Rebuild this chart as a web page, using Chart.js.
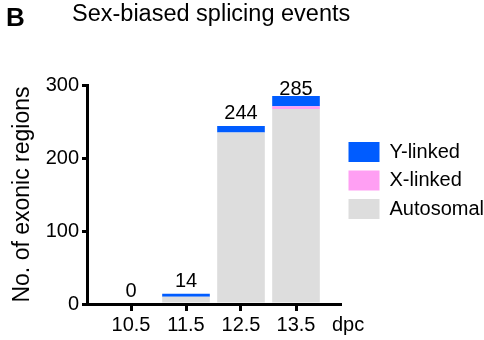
<!DOCTYPE html>
<html>
<head>
<meta charset="utf-8">
<script src="https://cdn.jsdelivr.net/npm/chart.js@4.4.1/dist/chart.umd.min.js"></script>
<style>
  html, body { margin: 0; padding: 0; background: #fff; }
  #wrap { position: relative; width: 484px; height: 340px; font-family: "Liberation Sans", Arial, Helvetica, sans-serif; color: #000; }
  #panel { position: absolute; left: 6px; top: 4px; font-size: 26px; font-weight: bold; line-height: 1; }
  #heading { position: absolute; left: 72px; top: 2px; font-size: 23.5px; line-height: 1; }
  canvas { position: absolute; left: 0; top: 0; }
</style>
</head>
<body>
<div id="wrap">
  <canvas id="chart" width="484" height="340"></canvas>
  <div id="panel">B</div>
  <div id="heading">Sex-biased splicing events</div>
</div>
<script>
// Embryonic stages (dpc) and exonic-region counts per chromosome class
const categories = [10.5, 11.5, 12.5, 13.5];
const tickLabels = ['10.5', '11.5', '12.5', '13.5'];
const autosomal = [0, 10, 235, 267];
const xLinked = [0, 0, 0, 4];
const yLinked = [0, 4, 9, 14];
const yTicks = [0, 100, 200, 300];

const FONT = '"Liberation Sans", Arial, Helvetica, sans-serif';
Chart.defaults.font.family = FONT;
Chart.defaults.color = '#000';

const toPoints = vals => categories.map((c, i) => ({ x: c, y: vals[i] }));

// Stack totals written above each bar
const totalsLabels = {
  id: 'totalsLabels',
  afterDatasetsDraw(chart) {
    const { ctx, chartArea } = chart;
    const xs = chart.scales.x, ys = chart.scales.y;
    ctx.save();
    ctx.font = '20px ' + FONT;
    ctx.fillStyle = '#000';
    ctx.textAlign = 'center';
    ctx.textBaseline = 'alphabetic';
    categories.forEach((c, i) => {
      const total = chart.data.datasets.reduce((s, ds) => s + ds.data[i].y, 0);
      const px = xs.getPixelForValue(c);
      const py = Math.max(ys.getPixelForValue(total) - 7, chartArea.top + 10);
      ctx.fillText(String(total), px, py);
    });
    ctx.restore();
  }
};

// Unit name at the end of the stage axis
const unitLabel = {
  id: 'unitLabel',
  afterDraw(chart) {
    const { ctx } = chart;
    const xs = chart.scales.x;
    ctx.save();
    ctx.font = '20px ' + FONT;
    ctx.fillStyle = '#000';
    ctx.textAlign = 'left';
    ctx.textBaseline = 'middle';
    ctx.fillText('dpc', xs.right - 8, xs.top + 21);
    ctx.restore();
  }
};

new Chart(document.getElementById('chart'), {
  type: 'bar',
  data: {
    datasets: [
      { label: 'Autosomal', data: toPoints(autosomal), backgroundColor: '#dddddd' },
      { label: 'X-linked', data: toPoints(xLinked), backgroundColor: '#ff9ff3' },
      { label: 'Y-linked', data: toPoints(yLinked), backgroundColor: '#005cff' }
    ]
  },
  options: {
    responsive: false,
    animation: false,
    devicePixelRatio: 1,
    layout: { padding: { top: 85, right: 0, bottom: 0, left: 0 } },
    datasets: { bar: { barPercentage: 0.866, categoryPercentage: 1, borderWidth: 0 } },
    scales: {
      x: {
        type: 'linear',
        min: 9.7,
        max: 14.3,
        offset: false,
        stacked: true,
        z: 1,
        border: { color: '#000', width: 3 },
        grid: { offset: false, drawOnChartArea: false, drawTicks: true, tickLength: 7, lineWidth: 3, color: '#000' },
        ticks: {
          font: { size: 20 }, color: '#000', padding: 2, autoSkip: false, maxRotation: 0,
          callback: (v, i) => tickLabels[i]
        },
        afterBuildTicks: s => { s.ticks = categories.map(v => ({ value: v })); },
        afterFit: s => { s.height = 36; }
      },
      y: {
        type: 'linear',
        min: 0,
        max: 300,
        stacked: true,
        border: { color: '#000', width: 3 },
        grid: { drawOnChartArea: false, drawTicks: true, tickLength: 5, lineWidth: 3, color: '#000' },
        ticks: { font: { size: 20 }, color: '#000', padding: 3 },
        afterBuildTicks: s => { s.ticks = yTicks.map(v => ({ value: v })); },
        title: {
          display: true, text: 'No. of exonic regions', color: '#000',
          font: { size: 23 }, padding: { top: 9, bottom: 0 }
        },
        afterFit: s => { s.width = 87; }
      }
    },
    plugins: {
      tooltip: { enabled: false },
      legend: {
        position: 'right',
        align: 'start',
        reverse: true,
        maxWidth: 144,
        title: { display: true, text: '', font: { size: 10, lineHeight: 1 }, padding: { top: 38.5, bottom: 0 } },
        labels: { boxWidth: 31, boxHeight: 20, padding: 8.5, font: { size: 20 }, color: '#000' }
      }
    }
  },
  plugins: [totalsLabels, unitLabel]
});
</script>
</body>
</html>
